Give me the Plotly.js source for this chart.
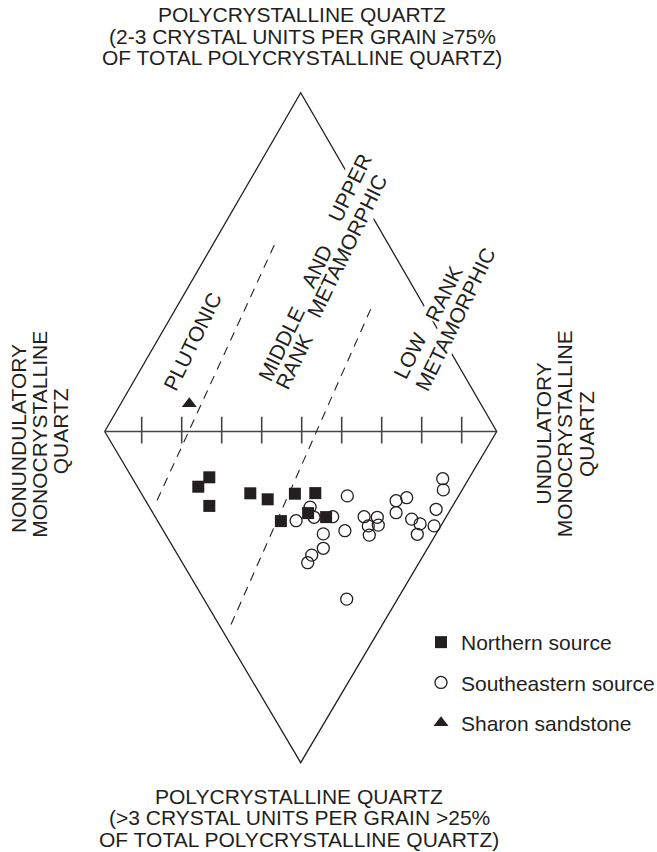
<!DOCTYPE html>
<html>
<head>
<meta charset="utf-8">
<script src="https://cdn.plot.ly/plotly-3.0.1.min.js"></script>
<style>
  html, body { margin: 0; padding: 0; background: #ffffff; }
  #chart { width: 657px; height: 852px; }
</style>
</head>
<body>
<div id="chart"></div>
<script>
// ---------------- DATA (diagram units: 1 unit = 1/10 of a tick interval) ----------------
const diamondX = [0.75, 49.75, 98.75, 49.75, 0.75];
const diamondY = [0, 84.7, 0, -82.8, 0];
const tickValues = [10, 20, 30, 40, 50, 60, 70, 80, 90];

// field boundaries (dashed)
const boundary1X = [43.15, 13.3];
const boundary1Y = [46.6, -18.4];
const boundary2X = [67.25, 31.65];
const boundary2Y = [30.6, -49.8];

// Northern source (filled squares)
const northernX = [26.9, 24.15, 26.9, 37.15, 41.5, 48.3, 53.4, 51.6, 56.1, 44.8];
const northernY = [-11.45, -13.8, -18.6, -15.45, -16.95, -15.55, -15.4, -20.4, -21.4, -22.4];

// Southeastern source (open circles)
const southeasternX = [61.4, 52.1, 48.6, 53.1, 57.75, 55.4, 60.8, 55.4, 52.5, 51.5, 61.25,
                       65.6, 68.9, 66.65, 69.15, 66.9, 73.6, 76.25, 73.6, 77.5, 79.6, 78.9,
                       83.1, 83.6, 85.25, 85.4];
const southeasternY = [-16.1, -18.9, -22.3, -21.45, -21.3, -25.6, -24.8, -29.2, -30.9, -32.8, -41.9,
                       -21.3, -21.45, -23.6, -23.4, -25.9, -17.3, -16.55, -20.3, -21.9, -23.1, -25.7,
                       -23.6, -19.45, -11.8, -14.6];

// Sharon sandstone (filled triangle)
const sharonX = [21.9];
const sharonY = [6.95];

// texts
const topTitleLines = ['POLYCRYSTALLINE QUARTZ', '(2-3 CRYSTAL UNITS PER GRAIN \u226575%', 'OF TOTAL POLYCRYSTALLINE QUARTZ)'];
const bottomTitleLines = ['POLYCRYSTALLINE QUARTZ', '(>3 CRYSTAL UNITS PER GRAIN >25%', 'OF TOTAL POLYCRYSTALLINE QUARTZ)'];
const leftLabelLines = ['NONUNDULATORY', 'MONOCRYSTALLINE', 'QUARTZ'];
const rightLabelLines = ['UNDULATORY', 'MONOCRYSTALLINE', 'QUARTZ'];
// words that sit across the diamond edge (knock the edge out behind them) come first
const fieldWords = ['UPPER', 'METAMORPHIC', 'RANK', 'METAMORPHIC', 'PLUTONIC', 'MIDDLE', 'RANK', 'AND', 'LOW'];
const legendNames = ['Northern source', 'Southeastern source', 'Sharon sandstone'];

// ---------------- LAYOUT / STYLE ----------------
const INK = '#231f20';
const FONT = 'Liberation Sans, Arial, Helvetica, sans-serif';
const FS = 21;
const W = 657, H = 852;

// word placements (diagram units) and whether they mask the edge
const fieldWordPos = [
  [62.1, 60.9], [61.4, 46.45], [85.6, 34.4], [88.3, 28.1],
  [22.6, 22.6], [45.0, 21.9], [48.1, 17.45], [53.75, 41.2], [77.1, 18.95]
];
const fieldWordMask = [true, true, true, true, false, false, false, false, false];
const topTitlePx = [15, 36.5, 58];
const bottomTitlePx = [796, 817.5, 839];
const leftLabelPx = [[18.0, 439], [39.3, 434.5], [60.8, 431.5]];
const rightLabelPx = [[542.5, 434], [564.3, 434], [586, 434]];

// axis line with ticks built from tick values
const axisX = [diamondX[0], diamondX[2], null];
const axisY = [0, 0, null];
tickValues.forEach(t => { axisX.push(t, t, null); axisY.push(3.7, -3, null); });

const traces = [
  { x: diamondX, y: diamondY, mode: 'lines', line: { color: INK, width: 1.3 }, showlegend: false, hoverinfo: 'skip' },
  { x: axisX, y: axisY, mode: 'lines', line: { color: '#444444', width: 1.6 }, showlegend: false, hoverinfo: 'skip' },
  { x: boundary1X, y: boundary1Y, mode: 'lines', line: { color: INK, width: 1.1, dash: '9px,7px' }, showlegend: false, hoverinfo: 'skip' },
  { x: boundary2X, y: boundary2Y, mode: 'lines', line: { color: INK, width: 1.1, dash: '9px,7px' }, showlegend: false, hoverinfo: 'skip' },
  { x: southeasternX, y: southeasternY, mode: 'markers', name: legendNames[1], legendgroup: 'b', legendrank: 2,
    marker: { symbol: 'circle-open', size: 12, color: INK, line: { width: 1.3, color: INK } } },
  { x: northernX, y: northernY, mode: 'markers', name: legendNames[0], legendgroup: 'a', legendrank: 1,
    marker: { symbol: 'square', size: 12, color: INK } },
  { x: sharonX, y: sharonY, mode: 'markers', name: legendNames[2], legendgroup: 'c', legendrank: 3,
    marker: { symbol: 'triangle-up', size: 13, color: INK } }
];

const annotations = [];
const baseFont = { family: FONT, size: FS, color: INK };
topTitleLines.forEach((t, i) => annotations.push({
  text: t, xref: 'paper', yref: 'paper', x: 302 / W, y: 1 - topTitlePx[i] / H,
  xanchor: 'center', yanchor: 'middle', showarrow: false, borderpad: 0, font: baseFont
}));
bottomTitleLines.forEach((t, i) => annotations.push({
  text: t, xref: 'paper', yref: 'paper', x: 299 / W, y: 1 - bottomTitlePx[i] / H,
  xanchor: 'center', yanchor: 'middle', showarrow: false, borderpad: 0, font: baseFont
}));
leftLabelLines.forEach((t, i) => annotations.push({
  text: t, xref: 'paper', yref: 'paper', x: leftLabelPx[i][0] / W, y: 1 - leftLabelPx[i][1] / H,
  xanchor: 'center', yanchor: 'middle', textangle: -90, showarrow: false, borderpad: 0, font: baseFont
}));
rightLabelLines.forEach((t, i) => annotations.push({
  text: t, xref: 'paper', yref: 'paper', x: rightLabelPx[i][0] / W, y: 1 - rightLabelPx[i][1] / H,
  xanchor: 'center', yanchor: 'middle', textangle: -90, showarrow: false, borderpad: 0, font: baseFont
}));
fieldWords.forEach((t, i) => annotations.push({
  text: t, xref: 'x', yref: 'y', x: fieldWordPos[i][0], y: fieldWordPos[i][1],
  xanchor: 'center', yanchor: 'middle', textangle: -64, showarrow: false, borderpad: 0,
  bgcolor: fieldWordMask[i] ? '#ffffff' : 'rgba(0,0,0,0)', font: baseFont
}));

const layout = {
  width: W, height: H,
  margin: { l: 0, r: 0, t: 0, b: 0, pad: 0, autoexpand: false },
  paper_bgcolor: '#ffffff', plot_bgcolor: '#ffffff',
  xaxis: { range: [-101.7 / 4, (W - 101.7) / 4], visible: false, fixedrange: true },
  yaxis: { range: [(431.5 - H) / 4, 431.5 / 4], visible: false, fixedrange: true },
  showlegend: true,
  legend: {
    x: 421 / W, y: 1 - 622 / H, xanchor: 'left', yanchor: 'top',
    font: baseFont, bgcolor: 'rgba(0,0,0,0)', borderwidth: 0,
    tracegroupgap: 10, itemwidth: 30, traceorder: 'grouped'
  },
  annotations: annotations
};

Plotly.newPlot('chart', traces, layout, { staticPlot: true, displayModeBar: false });
</script>
</body>
</html>
